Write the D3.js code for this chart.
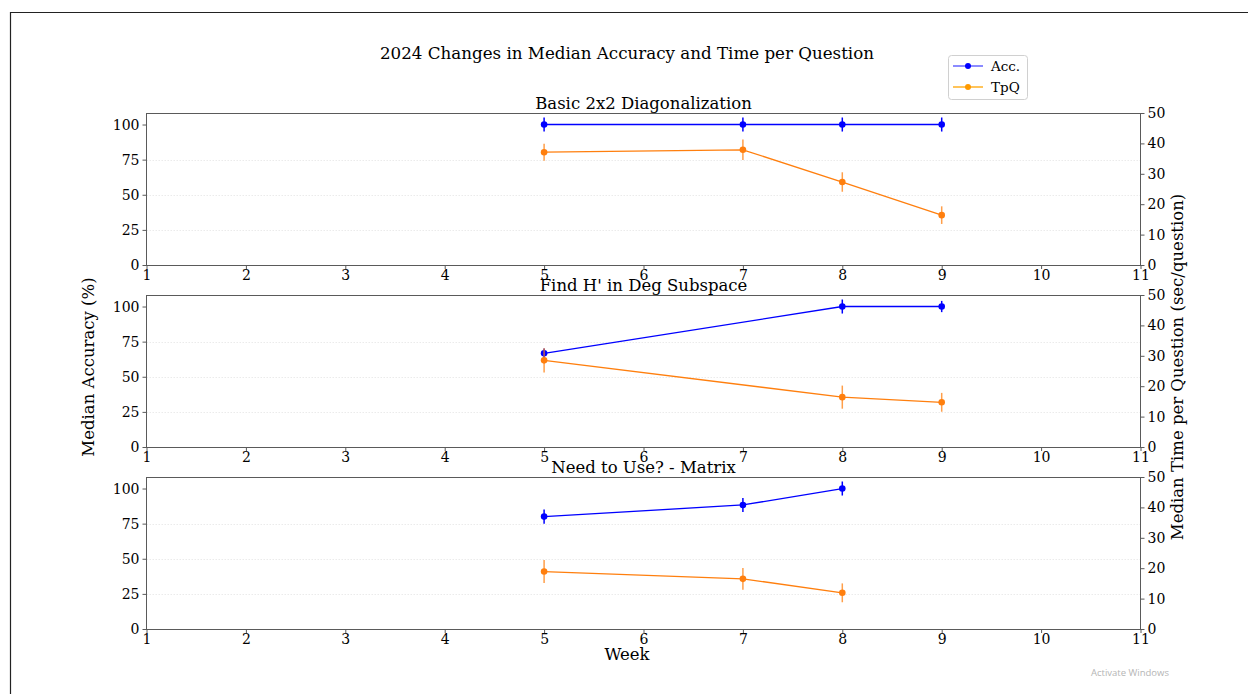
<!DOCTYPE html>
<html>
<head>
<meta charset="utf-8">
<script src="https://cdn.jsdelivr.net/npm/d3@7/dist/d3.min.js"></script>
<style>
  html, body { margin: 0; padding: 0; background: #fff; }
  svg { display: block; }
  text { font-family: "DejaVu Serif", serif; fill: #000; }
</style>
</head>
<body>
<svg id="chart" width="1248" height="694"></svg>
<script>
// ---- data ----
const panelTitles = ["Basic 2x2 Diagonalization", "Find H' in Deg Subspace", "Need to Use? - Matrix"];

const diagWeeks = [5, 7, 8, 9];
const diagAcc = [100, 100, 100, 100];
const diagAccErr = [5, 5, 5, 5];
const diagTpq = [37.1, 37.9, 27.3, 16.4];
const diagTpqErr = [2.8, 3.4, 3.2, 2.9];

const findWeeks = [5, 8, 9];
const findAcc = [66.7, 100, 100];
const findAccErr = [3.5, 5, 4];
const findTpq = [28.5, 16.4, 14.7];
const findTpqErr = [4.0, 3.8, 3.1];

const needWeeks = [5, 7, 8];
const needAcc = [80, 88.3, 100];
const needAccErr = [5, 5, 5];
const needTpq = [18.9, 16.5, 11.9];
const needTpqErr = [3.8, 3.6, 3.1];

const weekTicks = [1, 2, 3, 4, 5, 6, 7, 8, 9, 10, 11];
const accTicks = [0, 25, 50, 75, 100];
const accGrid = [25, 50, 75];
const tpqTicks = [0, 10, 20, 30, 40, 50];
const legendLabels = ["Acc.", "TpQ"];

const panels = [
  { title: panelTitles[0], weeks: diagWeeks, acc: diagAcc, accErr: diagAccErr, tpq: diagTpq, tpqErr: diagTpqErr },
  { title: panelTitles[1], weeks: findWeeks, acc: findAcc, accErr: findAccErr, tpq: findTpq, tpqErr: findTpqErr },
  { title: panelTitles[2], weeks: needWeeks, acc: needAcc, accErr: needAccErr, tpq: needTpq, tpqErr: needTpqErr }
];

// ---- layout ----
const svg = d3.select("#chart");
const accColor = "#0000ff";
const tpqColor = "#ff7f0e";
const spineColor = "#5a5a5a";
const left = 146.5, right = 1140.5;
const panelTops = [113, 295, 477];
const panelH = 152;

// window frame
svg.append("path")
  .attr("d", "M10.5,694 V12.5 H1248")
  .attr("fill", "none").attr("stroke", "#222").attr("stroke-width", 1.2);

svg.append("text")
  .attr("x", 627).attr("y", 59)
  .attr("text-anchor", "middle").attr("font-size", 16.7)
  .text("2024 Changes in Median Accuracy and Time per Question");

const x = d3.scaleLinear().domain([1, 11]).range([left, right]);

panels.forEach((p, i) => {
  const top = panelTops[i], bottom = top + panelH;
  const yAcc = d3.scaleLinear().domain([0, 108.2]).range([bottom, top]);
  const yTpq = d3.scaleLinear().domain([0, 50]).range([bottom, top]);
  const g = svg.append("g");

  // horizontal grid
  g.selectAll(".grid").data(accGrid).enter().append("line")
    .attr("x1", left).attr("x2", right)
    .attr("y1", d => Math.round(yAcc(d)) + 0.5).attr("y2", d => Math.round(yAcc(d)) + 0.5)
    .attr("stroke", "#e6e6e6").attr("stroke-width", 0.8).attr("stroke-dasharray", "1.5,1.5");

  // axes
  const xAxis = d3.axisBottom(x).tickValues(weekTicks).tickFormat(d3.format("d")).tickSize(4).tickPadding(1.5);
  const yAxisL = d3.axisLeft(yAcc).tickValues(accTicks).tickSize(4).tickPadding(3);
  const yAxisR = d3.axisRight(yTpq).tickValues(tpqTicks).tickSize(4).tickPadding(3);

  const styleAxis = sel => {
    sel.select(".domain").remove();
    sel.selectAll(".tick line").attr("stroke", spineColor);
    sel.selectAll(".tick text").attr("font-family", "DejaVu Serif, serif").attr("font-size", 14).attr("fill", "#000");
  };
  g.append("g").attr("transform", `translate(0,${bottom})`).call(xAxis).call(styleAxis);
  g.append("g").attr("transform", `translate(${left},0)`).call(yAxisL).call(styleAxis);
  g.append("g").attr("transform", `translate(${right},0)`).call(yAxisR).call(styleAxis);

  // frame
  g.append("rect")
    .attr("x", left).attr("y", top + 0.5).attr("width", right - left).attr("height", panelH)
    .attr("fill", "none").attr("stroke", spineColor).attr("stroke-width", 1);

  // title
  g.append("text")
    .attr("x", (left + right) / 2).attr("y", top - 4)
    .attr("text-anchor", "middle").attr("font-size", 16.5)
    .text(p.title);

  const series = [
    { vals: p.acc, errs: p.accErr, y: yAcc, color: accColor, errOpacity: 1 },
    { vals: p.tpq, errs: p.tpqErr, y: yTpq, color: tpqColor, errOpacity: 0.75 }
  ];
  series.forEach(s => {
    const pts = p.weeks.map((w, k) => ({ w, v: s.vals[k], e: s.errs[k] }));
    g.append("path").datum(pts)
      .attr("fill", "none").attr("stroke", s.color).attr("stroke-width", 1.3)
      .attr("d", d3.line().x(d => x(d.w)).y(d => s.y(d.v)));
    g.selectAll(null).data(pts).enter().append("line")
      .attr("x1", d => x(d.w)).attr("x2", d => x(d.w))
      .attr("y1", d => s.y(d.v - d.e)).attr("y2", d => s.y(d.v + d.e))
      .attr("stroke", s.color).attr("stroke-width", 1.5).attr("opacity", s.errOpacity);
    g.selectAll(null).data(pts).enter().append("circle")
      .attr("cx", d => x(d.w)).attr("cy", d => s.y(d.v)).attr("r", 3.3)
      .attr("fill", s.color);
  });
});

// axis labels
svg.append("text")
  .attr("x", 627).attr("y", 660)
  .attr("text-anchor", "middle").attr("font-size", 16.5)
  .text("Week");
svg.append("text")
  .attr("transform", "translate(94,367) rotate(-90)")
  .attr("text-anchor", "middle").attr("font-size", 16.5)
  .text("Median Accuracy (%)");
svg.append("text")
  .attr("transform", "translate(1183,367) rotate(-90)")
  .attr("text-anchor", "middle").attr("font-size", 16.5)
  .text("Median Time per Question (sec/question)");

// legend
const lg = svg.append("g").attr("transform", "translate(948,55)");
lg.append("rect").attr("x", 0.5).attr("y", 0.5).attr("width", 79).attr("height", 44).attr("rx", 3)
  .attr("fill", "#fff").attr("stroke", "#d0d0d0").attr("stroke-width", 1);
const legendColors = ["#4d4dff", "#ffa500"];
const legendDots = ["#0000ff", "#ff9a00"];
legendLabels.forEach((lab, i) => {
  const yy = 11 + i * 21;
  lg.append("line").attr("x1", 5).attr("x2", 35).attr("y1", yy).attr("y2", yy)
    .attr("stroke", legendColors[i]).attr("stroke-width", 1.3);
  lg.append("circle").attr("cx", 20).attr("cy", yy).attr("r", 3).attr("fill", legendDots[i]);
  lg.append("text").attr("x", 43).attr("y", yy + 4.5).attr("font-size", 13.5).text(lab);
});

// system watermark
svg.append("text")
  .attr("x", 1091).attr("y", 676)
  .style("font-family", "'Open Sans', sans-serif").style("font-size", "9.5px")
  .style("fill", "#b5b5b5")
  .text("Activate Windows");
</script>
</body>
</html>
